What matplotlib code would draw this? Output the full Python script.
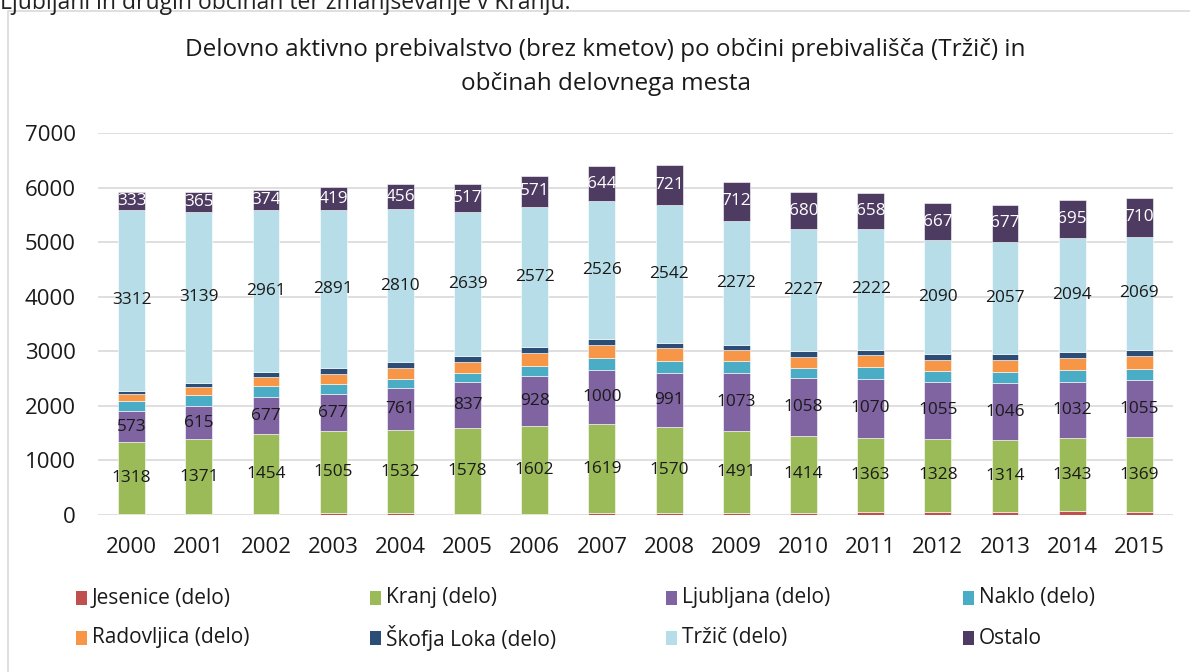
import matplotlib
matplotlib.use("Agg")
import matplotlib.pyplot as plt
from matplotlib.patches import Rectangle
import numpy as np

plt.rcParams['font.family'] = ['Open Sans', 'DejaVu Sans']

years = [str(y) for y in range(2000, 2016)]
jesenice = [15, 15, 25, 30, 30, 25, 25, 40, 40, 40, 40, 55, 60, 55, 70, 55]
kranj = [1318, 1371, 1454, 1505, 1532, 1578, 1602, 1619, 1570, 1491, 1414, 1363, 1328, 1314, 1343, 1369]
ljubljana = [573, 615, 677, 677, 761, 837, 928, 1000, 991, 1073, 1058, 1070, 1055, 1046, 1032, 1055]
naklo = [190, 200, 200, 185, 175, 165, 180, 210, 225, 225, 180, 225, 200, 210, 205, 205]
radovljica = [120, 140, 165, 190, 200, 200, 235, 250, 230, 190, 210, 215, 200, 210, 230, 235]
skofja_loka = [65, 80, 105, 110, 100, 110, 105, 100, 90, 100, 105, 100, 110, 115, 110, 110]
trzic = [3312, 3139, 2961, 2891, 2810, 2639, 2572, 2526, 2542, 2272, 2227, 2222, 2090, 2057, 2094, 2069]
ostalo = [333, 365, 374, 419, 456, 517, 571, 644, 721, 712, 680, 658, 667, 677, 695, 710]

series = [
    ('Jesenice (delo)', jesenice, '#C0504D', None),
    ('Kranj (delo)', kranj, '#9BBB59', '#1a1a1a'),
    ('Ljubljana (delo)', ljubljana, '#8064A2', '#1a1a1a'),
    ('Naklo (delo)', naklo, '#4BACC6', None),
    ('Radovljica (delo)', radovljica, '#F79646', None),
    ('Škofja Loka (delo)', skofja_loka, '#2C4D75', None),
    ('Tržič (delo)', trzic, '#B7DEE8', '#1a1a1a'),
    ('Ostalo', ostalo, '#4D3B62', 'white'),
]

W, H = 1190, 672
fig = plt.figure(figsize=(W / 100, H / 100), dpi=100)

# chart frame and (cropped) page text above it
fig.patches.append(Rectangle((8 / W, -0.05), 1.2, 1 - 11 / H + 0.05,
                             transform=fig.transFigure, fill=False,
                             edgecolor='#D9D9D9', linewidth=1.2))
fig.text(0.0, 1 - 9 / H, 'Ljubljani in drugih občinah ter zmanjševanje v Kranju.',
         fontsize=16.5, color='#222222', va='baseline', ha='left')

fig.text(0.509, 1 - 50 / H, 'Delovno aktivno prebivalstvo (brez kmetov) po občini prebivališča (Tržič) in',
         ha='center', va='center', fontsize=17.5, color='#1a1a1a')
fig.text(0.509, 1 - 84 / H, 'občinah delovnega mesta',
         ha='center', va='center', fontsize=17.5, color='#1a1a1a')

ax = fig.add_axes([98 / W, 1 - 515 / H, 1075 / W, 382 / H])
x = np.arange(len(years))
bottom = np.zeros(len(years))
for name, vals, color, txt in series:
    vals = np.array(vals, dtype=float)
    ax.bar(x, vals, width=0.4, bottom=bottom, color=color,
           edgecolor='white', linewidth=0.4, label=name, zorder=3)
    if txt is not None:
        for xi, b, v in zip(x, bottom, vals):
            ax.text(xi, b + v / 2, f'{int(v)}', ha='center', va='center',
                    fontsize=12.4, color=txt, zorder=4)
    bottom += vals

ax.set_xlim(-0.5, len(years) - 0.5)
ax.set_ylim(0, 7000)
ax.set_yticks(range(0, 7001, 1000))
ax.set_xticks(x)
ax.set_xticklabels(years)
ax.tick_params(axis='both', length=0, labelsize=16, colors='#1a1a1a')
ax.tick_params(axis='y', pad=16)
ax.tick_params(axis='x', pad=16)
ax.grid(axis='y', color='#D9D9D9', linewidth=1.2, zorder=0)
for s in ax.spines.values():
    s.set_visible(False)

# legend, laid out in rows of four like the original
col_x = [76, 370, 666, 963]
row_y = [598, 638]
for i, (name, vals, color, txt) in enumerate(series):
    cx = col_x[i % 4]
    cy = row_y[i // 4]
    fig.patches.append(Rectangle((cx / W, 1 - (cy + 7) / H), 11 / W, 14 / H,
                                 transform=fig.transFigure, facecolor=color,
                                 edgecolor='none'))
    fig.text((cx + 16) / W, 1 - cy / H, name, ha='left', va='center',
             fontsize=15, color='#1a1a1a')

fig.savefig('out.png', dpi=100)
